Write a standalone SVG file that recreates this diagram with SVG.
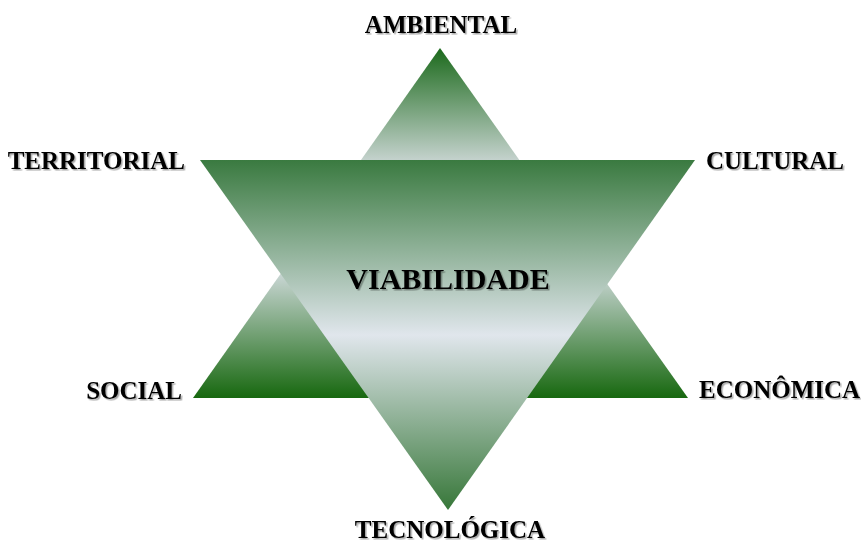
<svg xmlns="http://www.w3.org/2000/svg" width="861" height="542" viewBox="0 0 861 542">
<defs>
<linearGradient id="gUp" gradientUnits="userSpaceOnUse" x1="0" y1="48" x2="0" y2="398">
<stop offset="0" stop-color="#1c6a1c"/>
<stop offset="0.33" stop-color="#c9d5d2"/>
<stop offset="0.62" stop-color="#d6dee2"/>
<stop offset="1" stop-color="#17680f"/>
</linearGradient>
<linearGradient id="gDown" gradientUnits="userSpaceOnUse" x1="0" y1="160" x2="0" y2="510">
<stop offset="0" stop-color="#3a7a40"/>
<stop offset="0.5" stop-color="#e0e6ec"/>
<stop offset="1" stop-color="#377739"/>
</linearGradient>
<filter id="sh" x="-10%" y="-20%" width="120%" height="140%">
<feDropShadow dx="1.5" dy="1.5" stdDeviation="0.6" flood-color="#000" flood-opacity="0.35"/>
</filter>
</defs>
<style>
.lbl{font-family:"Liberation Serif","Times New Roman",serif;font-weight:bold;font-size:25px;fill:#000;filter:url(#sh)}
.big{font-size:30px}
</style>
<rect width="861" height="542" fill="#fff"/>
<g id="triangle-up">
<polygon points="440,48 688,398 193,398" fill="url(#gUp)"/>
</g>
<g id="triangle-down">
<polygon points="200,160 695,160 448,510" fill="url(#gDown)"/>
</g>
<g id="center"><text class="lbl big" x="448" y="289" text-anchor="middle">VIABILIDADE</text></g>
<g id="ambiental"><text class="lbl" x="441" y="33" text-anchor="middle">AMBIENTAL</text></g>
<g id="territorial"><text class="lbl" x="185" y="169" text-anchor="end">TERRITORIAL</text></g>
<g id="cultural"><text class="lbl" x="706" y="169">CULTURAL</text></g>
<g id="social"><text class="lbl" x="182" y="399" text-anchor="end">SOCIAL</text></g>
<g id="economica"><text class="lbl" x="699" y="398">ECONÔMICA</text></g>
<g id="tecnologica"><text class="lbl" x="450" y="538" text-anchor="middle">TECNOLÓGICA</text></g>
<g id="connectors"></g>
</svg>
